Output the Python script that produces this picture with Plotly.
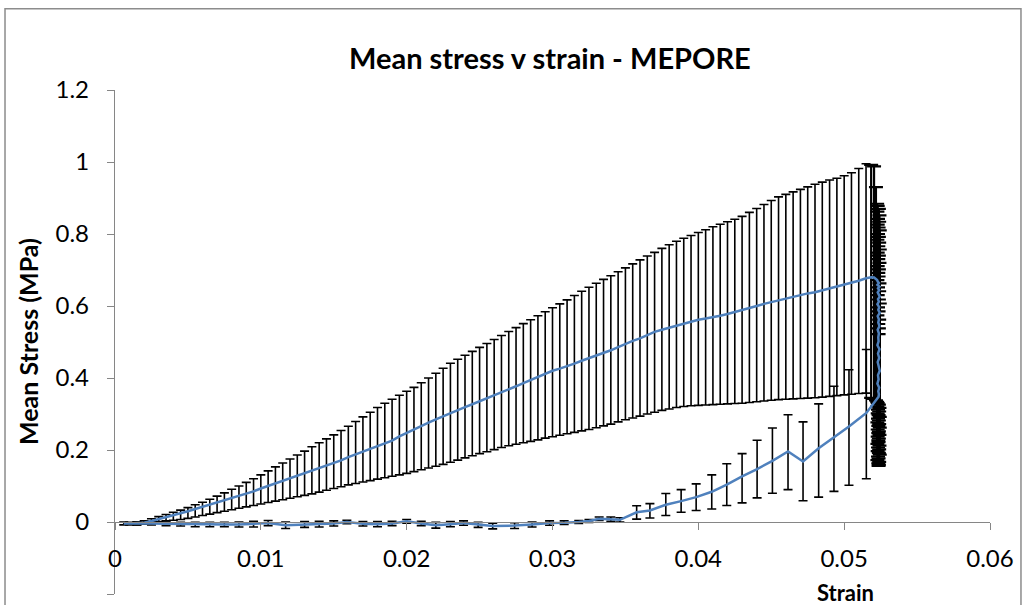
import plotly.graph_objects as go

# ---------------- data ----------------
# Loading branch
strain_load = [0.0010, 0.0015, 0.0020, 0.0025, 0.0030, 0.0035, 0.0040, 0.0045, 0.0050, 0.0055,
               0.0060, 0.0065, 0.0070, 0.0075, 0.0080, 0.0085, 0.0090, 0.0095, 0.0100, 0.0105,
               0.0110, 0.0115, 0.0120, 0.0125, 0.0130, 0.0135, 0.0140, 0.0145, 0.0150, 0.0155,
               0.0160, 0.0165, 0.0170, 0.0175, 0.0180, 0.0185, 0.0190, 0.0195, 0.0200, 0.0205,
               0.0210, 0.0215, 0.0220, 0.0225, 0.0230, 0.0235, 0.0240, 0.0245, 0.0250, 0.0255,
               0.0260, 0.0265, 0.0270, 0.0275, 0.0280, 0.0285, 0.0290, 0.0295, 0.0300, 0.0305,
               0.0310, 0.0315, 0.0320, 0.0325, 0.0330, 0.0335, 0.0340, 0.0345, 0.0350, 0.0355,
               0.0360, 0.0365, 0.0370, 0.0375, 0.0380, 0.0385, 0.0390, 0.0395, 0.0400, 0.0405,
               0.0410, 0.0415, 0.0420, 0.0425, 0.0430, 0.0435, 0.0440, 0.0445, 0.0450, 0.0455,
               0.0460, 0.0465, 0.0470, 0.0475, 0.0480, 0.0485, 0.0490, 0.0495, 0.0500, 0.0505,
               0.0510, 0.0515]
stress_load = [-0.004, -0.004, -0.002, 0.003, 0.008, 0.013, 0.019, 0.024, 0.030, 0.036,
               0.042, 0.048, 0.054, 0.060, 0.066, 0.072, 0.078, 0.085, 0.093, 0.100,
               0.106, 0.113, 0.120, 0.127, 0.134, 0.141, 0.148, 0.155, 0.163, 0.171,
               0.180, 0.188, 0.196, 0.204, 0.212, 0.218, 0.226, 0.238, 0.248, 0.258,
               0.267, 0.276, 0.285, 0.294, 0.303, 0.311, 0.319, 0.327, 0.335, 0.343,
               0.352, 0.360, 0.368, 0.377, 0.386, 0.395, 0.404, 0.412, 0.420, 0.426,
               0.432, 0.440, 0.448, 0.455, 0.461, 0.468, 0.477, 0.486, 0.495, 0.503,
               0.510, 0.520, 0.528, 0.534, 0.540, 0.546, 0.552, 0.557, 0.562, 0.565,
               0.568, 0.573, 0.578, 0.583, 0.588, 0.593, 0.600, 0.606, 0.611, 0.616,
               0.621, 0.627, 0.631, 0.635, 0.638, 0.643, 0.650, 0.654, 0.658, 0.663,
               0.670, 0.677]
upper_load = [-0.001, 0.000, 0.003, 0.009, 0.015, 0.021, 0.027, 0.033, 0.040, 0.048,
              0.055, 0.063, 0.072, 0.081, 0.091, 0.100, 0.110, 0.120, 0.131, 0.142,
              0.153, 0.164, 0.175, 0.186, 0.197, 0.209, 0.220, 0.231, 0.242, 0.254,
              0.266, 0.279, 0.292, 0.305, 0.318, 0.330, 0.341, 0.352, 0.363, 0.374,
              0.387, 0.400, 0.413, 0.427, 0.441, 0.452, 0.463, 0.474, 0.485, 0.496,
              0.507, 0.518, 0.529, 0.540, 0.551, 0.562, 0.573, 0.584, 0.595, 0.606,
              0.617, 0.629, 0.641, 0.652, 0.663, 0.674, 0.684, 0.695, 0.706, 0.717,
              0.728, 0.739, 0.749, 0.760, 0.770, 0.780, 0.788, 0.796, 0.804, 0.812,
              0.820, 0.827, 0.834, 0.841, 0.849, 0.860, 0.871, 0.882, 0.893, 0.903,
              0.910, 0.917, 0.924, 0.931, 0.938, 0.944, 0.950, 0.955, 0.962, 0.970,
              0.982, 0.995]
lower_load = [-0.008, -0.008, -0.006, -0.002, 0.001, 0.003, 0.005, 0.007, 0.010, 0.014,
              0.018, 0.022, 0.026, 0.030, 0.034, 0.038, 0.042, 0.046, 0.050, 0.054,
              0.058, 0.062, 0.066, 0.070, 0.074, 0.078, 0.083, 0.088, 0.093, 0.098,
              0.103, 0.107, 0.111, 0.115, 0.119, 0.123, 0.127, 0.131, 0.135, 0.140,
              0.145, 0.150, 0.155, 0.160, 0.166, 0.172, 0.178, 0.184, 0.190, 0.195,
              0.201, 0.207, 0.212, 0.216, 0.220, 0.224, 0.228, 0.233, 0.237, 0.241,
              0.245, 0.249, 0.253, 0.257, 0.262, 0.267, 0.272, 0.278, 0.284, 0.289,
              0.294, 0.300, 0.305, 0.310, 0.314, 0.318, 0.321, 0.323, 0.324, 0.325,
              0.326, 0.327, 0.328, 0.329, 0.330, 0.332, 0.334, 0.336, 0.338, 0.340,
              0.341, 0.342, 0.343, 0.344, 0.345, 0.347, 0.349, 0.351, 0.353, 0.355,
              0.357, 0.358]

# Relaxation (near-vertical drop at maximum strain)
strain_drop = [0.05185, 0.05205, 0.05218, 0.05226, 0.05230, 0.05238, 0.05228, 0.05242, 0.05232,
               0.05240, 0.05230, 0.05236, 0.05244, 0.05232, 0.05238, 0.05228, 0.05240, 0.05234,
               0.05244, 0.05230, 0.05238, 0.05234, 0.05242, 0.05230, 0.05238, 0.05234, 0.05236,
               0.05228, 0.05242, 0.05232, 0.05240, 0.05230, 0.05238, 0.05244, 0.05232, 0.05236,
               0.05228, 0.05240, 0.05234, 0.05238, 0.05236]
stress_drop = [0.680, 0.679, 0.676, 0.672, 0.668, 0.664, 0.659, 0.654, 0.649,
               0.644, 0.638, 0.632, 0.626, 0.619, 0.612, 0.605, 0.597, 0.589,
               0.581, 0.572, 0.563, 0.554, 0.544, 0.534, 0.524, 0.513, 0.502,
               0.491, 0.480, 0.468, 0.456, 0.444, 0.432, 0.420, 0.408, 0.396,
               0.384, 0.373, 0.363, 0.355, 0.348]
upper_drop = [0.992, 0.988, 0.930, 0.884, 0.878, 0.870, 0.862, 0.852, 0.842,
              0.834, 0.826, 0.818, 0.810, 0.800, 0.792, 0.784, 0.776, 0.766,
              0.757, 0.748, 0.740, 0.730, 0.720, 0.711, 0.702, 0.692, 0.682,
              0.672, 0.663, 0.652, 0.641, 0.630, 0.618, 0.607, 0.596, 0.585,
              0.574, 0.562, 0.550, 0.538, 0.522]
lower_drop = [0.345, 0.342, 0.338, 0.334, 0.330, 0.326, 0.321, 0.317, 0.312,
              0.307, 0.302, 0.297, 0.292, 0.287, 0.282, 0.277, 0.272, 0.267,
              0.262, 0.257, 0.252, 0.247, 0.242, 0.237, 0.232, 0.227, 0.222,
              0.217, 0.212, 0.207, 0.202, 0.197, 0.192, 0.187, 0.182, 0.177,
              0.172, 0.167, 0.163, 0.159, 0.156]

# Unloading branch
strain_unload = [0.05152, 0.05033, 0.04930, 0.04825, 0.04718, 0.04615, 0.04508, 0.04403, 0.04300,
                 0.04195, 0.04092, 0.03985, 0.03882, 0.03777, 0.03668, 0.03577, 0.03462]
stress_unload = [0.303, 0.265, 0.236, 0.205, 0.168, 0.196, 0.170, 0.147, 0.127,
                 0.104, 0.084, 0.069, 0.058, 0.048, 0.032, 0.027, 0.006]
upper_unload = [0.479, 0.423, 0.377, 0.328, 0.278, 0.298, 0.261, 0.227, 0.190,
                0.162, 0.131, 0.106, 0.090, 0.079, 0.051, 0.045, 0.012]
lower_unload = [0.120, 0.102, 0.085, 0.069, 0.059, 0.090, 0.080, 0.067, 0.053,
                0.046, 0.036, 0.032, 0.027, 0.018, 0.011, 0.008, 0.000]

# Return to zero strain
strain_return = [0.0340, 0.0332, 0.0325, 0.0318, 0.0308, 0.0298, 0.0286, 0.0274, 0.0259, 0.0249,
                 0.0239, 0.0230, 0.0220, 0.0210, 0.0200, 0.0190, 0.0180, 0.0170, 0.0159, 0.0150,
                 0.0140, 0.0130, 0.0117, 0.0105, 0.0095, 0.0085, 0.0075, 0.0065, 0.0055, 0.0045,
                 0.0035, 0.0025, 0.0015, 0.0006]
stress_return = [0.008, 0.009, 0.003, 0.000, -0.002, -0.003, -0.007, -0.010, -0.011, -0.008,
                 -0.003, -0.006, -0.009, -0.004, 0.002, -0.004, -0.006, -0.005, 0.000, -0.004,
                 -0.006, -0.007, -0.009, -0.003, -0.006, -0.007, -0.007, -0.007, -0.007, -0.006,
                 -0.005, -0.004, -0.004, -0.004]
err_return = [0.006, 0.005, 0.004, 0.004, 0.005, 0.006, 0.007, 0.008, 0.008, 0.007,
              0.006, 0.007, 0.008, 0.006, 0.005, 0.006, 0.007, 0.006, 0.005, 0.007,
              0.008, 0.008, 0.009, 0.007, 0.008, 0.007, 0.006, 0.006, 0.006, 0.005,
              0.005, 0.004, 0.004, 0.004]

x_tick_vals = [0, 0.01, 0.02, 0.03, 0.04, 0.05, 0.06]
x_tick_text = ["0", "0.01", "0.02", "0.03", "0.04", "0.05", "0.06"]
y_tick_vals = [-0.2, 0, 0.2, 0.4, 0.6, 0.8, 1.0, 1.2]
y_tick_text = ["-0.2", "0", "0.2", "0.4", "0.6", "0.8", "1", "1.2"]

# ---------------- build series ----------------
def errs(mean, up, lo):
    return ([max(u - s, 0) for u, s in zip(up, mean)],
            [max(s - l, 0) for s, l in zip(mean, lo)])

upper_return = [s + e for s, e in zip(stress_return, err_return)]
lower_return = [s - e for s, e in zip(stress_return, err_return)]

main_x = strain_load + strain_unload + strain_return
main_y = stress_load + stress_unload + stress_return
main_p, main_m = errs(main_y, upper_load + upper_unload + upper_return,
                      lower_load + lower_unload + lower_return)
drop_p, drop_m = errs(stress_drop, upper_drop, lower_drop)

strain = strain_load + strain_drop + strain_unload + strain_return
stress = stress_load + stress_drop + stress_unload + stress_return

FONT = "Lato"
GRAY = "#868686"

fig = go.Figure()
fig.add_trace(go.Scatter(
    x=main_x, y=main_y, mode="markers",
    marker=dict(size=1, color="rgba(0,0,0,0)"),
    error_y=dict(type="data", symmetric=False, array=main_p, arrayminus=main_m,
                 color="black", thickness=1.6, width=4.5),
    showlegend=False, hoverinfo="skip",
))
fig.add_trace(go.Scatter(
    x=strain_drop, y=stress_drop, mode="markers",
    marker=dict(size=1, color="rgba(0,0,0,0)"),
    error_y=dict(type="data", symmetric=False, array=drop_p, arrayminus=drop_m,
                 color="black", thickness=2.2, width=7),
    showlegend=False, hoverinfo="skip",
))
fig.add_trace(go.Scatter(
    x=strain, y=stress, mode="lines",
    line=dict(color="#4F81BD", width=2.5),
    showlegend=False,
))

fig.update_layout(
    width=1027, height=605,
    margin=dict(l=115, r=37, t=90, b=11),
    paper_bgcolor="white", plot_bgcolor="white",
    font=dict(family=FONT, color="black", size=24),
    title=dict(text="<b>Mean stress v strain - MEPORE</b>", font=dict(family=FONT, size=29, color="black"),
               x=0.497, xref="paper", xanchor="center", y=1 - 59 / 605, yref="container", yanchor="middle"),
    xaxis=dict(range=[0, 0.06], tickvals=x_tick_vals, ticktext=x_tick_text,
               anchor="free", position=0.2 / 1.4,
               showline=True, linecolor=GRAY, linewidth=1.3, ticks="outside", ticklen=7,
               tickcolor=GRAY, tickwidth=1.3, showgrid=False, zeroline=False,
               tickfont=dict(family=FONT, size=24, color="black"), ticklabelstandoff=8),
    yaxis=dict(range=[-0.2, 1.2], tickvals=y_tick_vals, ticktext=y_tick_text,
               showline=True, linecolor=GRAY, linewidth=1.3, ticks="outside", ticklen=7,
               tickcolor=GRAY, tickwidth=1.3, showgrid=False, zeroline=False,
               tickfont=dict(family=FONT, size=24, color="black"), ticklabelstandoff=13),
    annotations=[
        dict(text="<b>Mean Stress (MPa)</b>", textangle=-90, xref="paper", yref="paper",
             x=-0.0994, y=0.50, xanchor="center", yanchor="middle", showarrow=False,
             font=dict(family=FONT, size=25, color="black")),
        dict(text="<b>Strain</b>", xref="paper", yref="paper", x=0.8354, y=0.003,
             xanchor="center", yanchor="middle", showarrow=False,
             font=dict(family=FONT, size=22, color="black")),
    ],
    shapes=[dict(type="rect", xref="paper", yref="paper", x0=-0.1257, x1=1.0354,
                 y0=-0.05, y1=1.1613, line=dict(color="#8c8c8c", width=1.5), layer="below")],
)

fig.write_html("out.html", config={"displayModeBar": False},
               post_script="document.body.style.margin='0';")
